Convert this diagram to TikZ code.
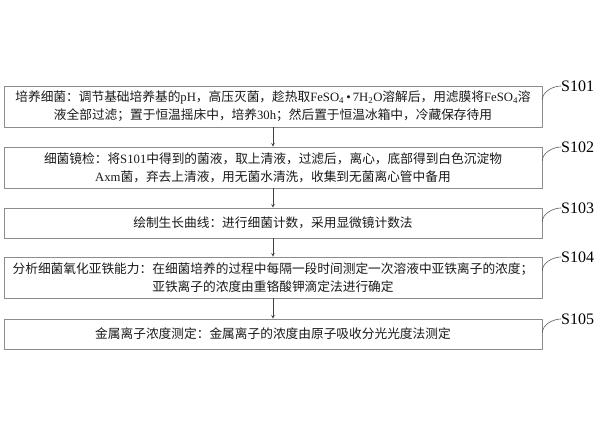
\documentclass[tikz,border=0pt]{standalone}
\usepackage{fontspec}
\setmainfont{Liberation Serif}
\newfontfamily\cjk{Noto Sans CJK SC}
\newcommand{\latn}[1]{{\rmfamily #1}}
\tikzset{
  stepbox/.style={draw=black!45,line width=0.7pt,minimum width=538pt,align=center,inner sep=0pt,
    font=\cjk\fontsize{12.7pt}{18pt}\selectfont,text=black!90},
  steptag/.style={anchor=west,inner sep=0pt,font=\fontsize{16pt}{16pt}\selectfont},
  flow/.style={->,draw=black!75,line width=0.6pt},
  tagline/.style={draw=black!65,line width=0.6pt}
}
\begin{document}
\begin{tikzpicture}[>=stealth,x=1pt,y=-1pt,line join=round,line cap=round]
  \useasboundingbox (0,0) rectangle (600,428);
  % steps
  \node[stepbox,minimum height=41pt] (s1) at (273,106.5) {培养细菌：调节基础培养基的\latn{pH}，高压灭菌，趁热取\latn{FeSO\textsubscript{4}\,•\,7H\textsubscript{2}O}溶解后，用滤膜将\latn{FeSO\textsubscript{4}}溶\\液全部过滤；置于恒温摇床中，培养\latn{30h}；然后置于恒温冰箱中，冷藏保存待用};
  \node[stepbox,minimum height=41pt] (s2) at (273,167.5) {细菌镜检：将\latn{S101}中得到的菌液，取上清液，过滤后，离心，底部得到白色沉淀物\\\latn{Axm}菌，弃去上清液，用无菌水清洗，收集到无菌离心管中备用};
  \node[stepbox,minimum height=30pt] (s3) at (273,223) {绘制生长曲线：进行细菌计数，采用显微镜计数法};
  \node[stepbox,minimum height=41pt] (s4) at (273,277.5) {分析细菌氧化亚铁能力：在细菌培养的过程中每隔一段时间测定一次溶液中亚铁离子的浓度；\\亚铁离子的浓度由重铬酸钾滴定法进行确定};
  \node[stepbox,minimum height=30pt] (s5) at (273,334) {金属离子浓度测定：金属离子的浓度由原子吸收分光光度法测定};
  % tags
  \node[steptag] (t1) at (561,86) {S101};
  \node[steptag] (t2) at (561,147) {S102};
  \node[steptag] (t3) at (561,208) {S103};
  \node[steptag] (t4) at (561,257) {S104};
  \node[steptag] (t5) at (561,319) {S105};
  \foreach \i in {1,...,5}
    \draw[tagline] ([yshift=-14pt]s\i.north east) .. controls +(0pt,8pt) and +(-8pt,0pt) .. (t\i.west);
  % arrows
  \draw[flow] (s1) -- (s2);
  \draw[flow] (s2) -- (s3);
  \draw[flow] (s3) -- (s4);
  \draw[flow] (s4) -- (s5);
\end{tikzpicture}
\end{document}
